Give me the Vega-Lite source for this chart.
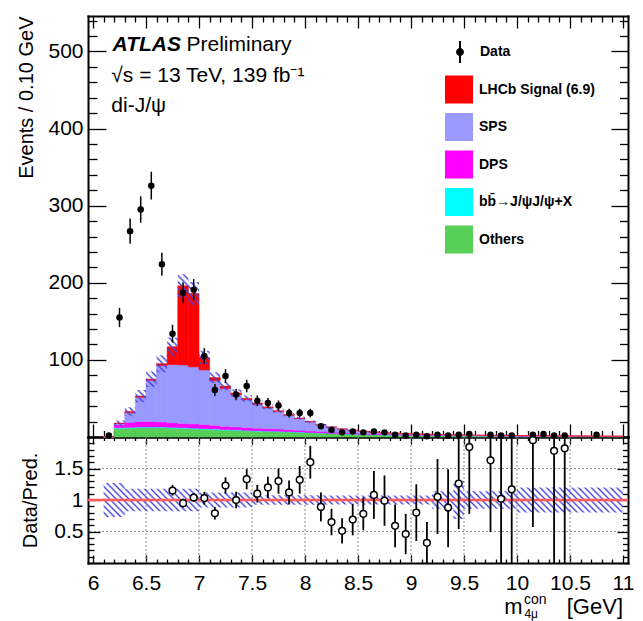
{
"$schema":"https://vega.github.io/schema/vega-lite/v6.json",
"width":540,"height":547,
"autosize":{"type":"none"},
"padding":{"left":88,"top":16,"right":15,"bottom":58},
"background":"white",
"config":{
 "font":"Liberation Sans",
 "view":{"stroke":null},
 "axis":{"labelFont":"Liberation Sans","labelFontSize":21,"labelColor":"black","domainColor":"black","domainWidth":2,"tickColor":"black","tickWidth":1.3,"titleColor":"black","titleFont":"Liberation Sans","titleFontWeight":"normal","titleFontSize":20,"grid":false,"labelOverlap":false,"labelFlush":false,"labelBound":false,"zindex":1,"domainCap":"square"},
 "legend":{"padding":0,"labelFont":"Liberation Sans","labelFontSize":14,"labelFontWeight":"bold","labelColor":"black","labelLimit":250}
},
"datasets":{
 "stack":[
  {"lo":6.1,"hi":6.2,"1_others":0.2,"2_bb":0,"3_dps":0,"4_sps":0.1,"5_sig":0},
  {"lo":6.2,"hi":6.3,"1_others":11,"2_bb":1,"3_dps":4,"4_sps":1.5,"5_sig":0.5},
  {"lo":6.3,"hi":6.4,"1_others":11.5,"2_bb":1,"3_dps":6.5,"4_sps":12.5,"5_sig":1.5},
  {"lo":6.4,"hi":6.5,"1_others":12,"2_bb":1,"3_dps":7,"4_sps":31.5,"5_sig":1.5},
  {"lo":6.5,"hi":6.6,"1_others":12,"2_bb":1,"3_dps":7,"4_sps":53.5,"5_sig":1.5},
  {"lo":6.6,"hi":6.7,"1_others":12,"2_bb":1,"3_dps":6.5,"4_sps":73,"5_sig":2.5},
  {"lo":6.7,"hi":6.8,"1_others":11.5,"2_bb":1,"3_dps":6,"4_sps":75.5,"5_sig":23},
  {"lo":6.8,"hi":6.9,"1_others":11,"2_bb":1,"3_dps":5.5,"4_sps":76,"5_sig":102.5},
  {"lo":6.9,"hi":7.0,"1_others":10.5,"2_bb":1,"3_dps":5.5,"4_sps":74,"5_sig":95},
  {"lo":7.0,"hi":7.1,"1_others":10,"2_bb":1,"3_dps":5,"4_sps":71,"5_sig":16},
  {"lo":7.1,"hi":7.2,"1_others":9.5,"2_bb":1,"3_dps":4.5,"4_sps":58,"5_sig":4},
  {"lo":7.2,"hi":7.3,"1_others":9,"2_bb":0.8,"3_dps":4,"4_sps":49.2,"5_sig":3},
  {"lo":7.3,"hi":7.4,"1_others":8.5,"2_bb":0.8,"3_dps":3.7,"4_sps":42,"5_sig":2},
  {"lo":7.4,"hi":7.5,"1_others":8,"2_bb":0.7,"3_dps":3.5,"4_sps":36.3,"5_sig":1.5},
  {"lo":7.5,"hi":7.6,"1_others":7.5,"2_bb":0.7,"3_dps":3.2,"4_sps":31.3,"5_sig":1.3},
  {"lo":7.6,"hi":7.7,"1_others":7.2,"2_bb":0.6,"3_dps":3,"4_sps":27.2,"5_sig":1},
  {"lo":7.7,"hi":7.8,"1_others":7,"2_bb":0.6,"3_dps":2.8,"4_sps":22.8,"5_sig":0.8},
  {"lo":7.8,"hi":7.9,"1_others":6.5,"2_bb":0.5,"3_dps":2.5,"4_sps":18.8,"5_sig":0.7},
  {"lo":7.9,"hi":8.0,"1_others":6,"2_bb":0.5,"3_dps":2.3,"4_sps":15.2,"5_sig":0.5},
  {"lo":8.0,"hi":8.1,"1_others":5.5,"2_bb":0.4,"3_dps":2,"4_sps":11.7,"5_sig":0.4},
  {"lo":8.1,"hi":8.2,"1_others":5,"2_bb":0.4,"3_dps":1.8,"4_sps":8.5,"5_sig":0.3},
  {"lo":8.2,"hi":8.3,"1_others":4.5,"2_bb":0.3,"3_dps":1.6,"4_sps":6.4,"5_sig":0.2},
  {"lo":8.3,"hi":8.4,"1_others":4,"2_bb":0.3,"3_dps":1.4,"4_sps":4.6,"5_sig":0.2},
  {"lo":8.4,"hi":8.5,"1_others":3.6,"2_bb":0.3,"3_dps":1.3,"4_sps":3.4,"5_sig":0.2},
  {"lo":8.5,"hi":8.6,"1_others":3.2,"2_bb":0.2,"3_dps":1.2,"4_sps":2.6,"5_sig":0.2},
  {"lo":8.6,"hi":8.7,"1_others":2.9,"2_bb":0.2,"3_dps":1.1,"4_sps":1.9,"5_sig":0.1},
  {"lo":8.7,"hi":8.8,"1_others":2.6,"2_bb":0.2,"3_dps":1,"4_sps":1.5,"5_sig":0.1},
  {"lo":8.8,"hi":8.9,"1_others":2.4,"2_bb":0.2,"3_dps":0.9,"4_sps":1.2,"5_sig":0.1},
  {"lo":8.9,"hi":9.0,"1_others":2.2,"2_bb":0.1,"3_dps":0.8,"4_sps":1.1,"5_sig":0.1},
  {"lo":9.0,"hi":9.1,"1_others":2,"2_bb":0.1,"3_dps":0.8,"4_sps":1,"5_sig":0},
  {"lo":9.1,"hi":9.2,"1_others":1.8,"2_bb":0.1,"3_dps":0.7,"4_sps":0.9,"5_sig":0},
  {"lo":9.2,"hi":9.3,"1_others":1.7,"2_bb":0.1,"3_dps":0.6,"4_sps":0.8,"5_sig":0},
  {"lo":9.3,"hi":9.4,"1_others":1.6,"2_bb":0.1,"3_dps":0.5,"4_sps":0.7,"5_sig":0},
  {"lo":9.4,"hi":9.5,"1_others":1.5,"2_bb":0.1,"3_dps":0.5,"4_sps":0.6,"5_sig":0},
  {"lo":9.5,"hi":9.6,"1_others":1.4,"2_bb":0.1,"3_dps":0.4,"4_sps":0.6,"5_sig":0},
  {"lo":9.6,"hi":9.7,"1_others":1.3,"2_bb":0.1,"3_dps":0.4,"4_sps":0.5,"5_sig":0},
  {"lo":9.7,"hi":9.8,"1_others":1.2,"2_bb":0.1,"3_dps":0.3,"4_sps":0.5,"5_sig":0},
  {"lo":9.8,"hi":9.9,"1_others":1.1,"2_bb":0.1,"3_dps":0.3,"4_sps":0.5,"5_sig":0},
  {"lo":9.9,"hi":10.0,"1_others":1.1,"2_bb":0,"3_dps":0.3,"4_sps":0.5,"5_sig":0},
  {"lo":10.0,"hi":10.1,"1_others":1,"2_bb":0,"3_dps":0.3,"4_sps":0.5,"5_sig":0},
  {"lo":10.1,"hi":10.2,"1_others":0.95,"2_bb":0,"3_dps":0.25,"4_sps":0.45,"5_sig":0},
  {"lo":10.2,"hi":10.3,"1_others":0.9,"2_bb":0,"3_dps":0.2,"4_sps":0.45,"5_sig":0},
  {"lo":10.3,"hi":10.4,"1_others":0.85,"2_bb":0,"3_dps":0.2,"4_sps":0.4,"5_sig":0},
  {"lo":10.4,"hi":10.5,"1_others":0.8,"2_bb":0,"3_dps":0.2,"4_sps":0.35,"5_sig":0},
  {"lo":10.5,"hi":10.6,"1_others":0.75,"2_bb":0,"3_dps":0.2,"4_sps":0.35,"5_sig":0},
  {"lo":10.6,"hi":10.7,"1_others":0.7,"2_bb":0,"3_dps":0.15,"4_sps":0.35,"5_sig":0},
  {"lo":10.7,"hi":10.8,"1_others":0.65,"2_bb":0,"3_dps":0.15,"4_sps":0.35,"5_sig":0},
  {"lo":10.8,"hi":10.9,"1_others":0.6,"2_bb":0,"3_dps":0.15,"4_sps":0.35,"5_sig":0},
  {"lo":10.9,"hi":11.0,"1_others":0.6,"2_bb":0,"3_dps":0.15,"4_sps":0.3,"5_sig":0}
 ],
 "ub":[
  {"lo":6.2,"l":14.5,"h":21.5},{"lo":6.3,"l":27.5,"h":38.5},{"lo":6.4,"l":45,"h":61},{"lo":6.5,"l":65,"h":85},
  {"lo":6.6,"l":84,"h":106},{"lo":6.7,"l":105,"h":129},{"lo":6.8,"l":181,"h":211},{"lo":6.9,"l":171,"h":201},
  {"lo":7.0,"l":94,"h":112},{"lo":7.1,"l":70,"h":84},{"lo":7.2,"l":60.5,"h":71.5},{"lo":7.3,"l":52.5,"h":61.5},
  {"lo":7.4,"l":46,"h":54},{"lo":7.5,"l":40.7,"h":47.3},{"lo":7.6,"l":36,"h":42},{"lo":7.7,"l":31.5,"h":36.5},
  {"lo":7.8,"l":27,"h":31},{"lo":7.9,"l":22.8,"h":26.2},{"lo":8.0,"l":18.6,"h":21.4},{"lo":8.1,"l":14.8,"h":17.2},
  {"lo":8.2,"l":12.1,"h":13.9},{"lo":8.3,"l":9.8,"h":11.2},{"lo":8.4,"l":8.2,"h":9.4},{"lo":8.5,"l":8.2,"h":9.4}
 ],
 "rb":[
  {"lo":6.1,"l":0.73,"h":1.27},{"lo":6.2,"l":0.73,"h":1.27},
  {"lo":6.3,"l":0.82,"h":1.18},{"lo":6.4,"l":0.82,"h":1.18},{"lo":6.5,"l":0.82,"h":1.18},{"lo":6.6,"l":0.82,"h":1.18},{"lo":6.7,"l":0.82,"h":1.18},{"lo":6.8,"l":0.82,"h":1.18},{"lo":6.9,"l":0.82,"h":1.18},
  {"lo":7.0,"l":0.88,"h":1.12},{"lo":7.1,"l":0.88,"h":1.12},{"lo":7.2,"l":0.88,"h":1.12},{"lo":7.3,"l":0.88,"h":1.12},{"lo":7.4,"l":0.88,"h":1.12},
  {"lo":7.5,"l":0.925,"h":1.075},{"lo":7.6,"l":0.925,"h":1.075},{"lo":7.7,"l":0.925,"h":1.075},{"lo":7.8,"l":0.925,"h":1.075},{"lo":7.9,"l":0.925,"h":1.075},{"lo":8.0,"l":0.925,"h":1.075},{"lo":8.1,"l":0.925,"h":1.075},
  {"lo":8.2,"l":0.93,"h":1.07},{"lo":8.3,"l":0.93,"h":1.07},{"lo":8.4,"l":0.93,"h":1.07},{"lo":8.5,"l":0.93,"h":1.07},{"lo":8.6,"l":0.93,"h":1.07},{"lo":8.7,"l":0.93,"h":1.07},{"lo":8.8,"l":0.93,"h":1.07},{"lo":8.9,"l":0.93,"h":1.07},{"lo":9.0,"l":0.93,"h":1.07},{"lo":9.1,"l":0.93,"h":1.07},
  {"lo":9.2,"l":0.86,"h":1.14},{"lo":9.3,"l":0.86,"h":1.14},{"lo":9.4,"l":0.7,"h":1.3},
  {"lo":9.5,"l":0.86,"h":1.14},{"lo":9.6,"l":0.86,"h":1.14},{"lo":9.7,"l":0.86,"h":1.14},{"lo":9.8,"l":0.86,"h":1.14},{"lo":9.9,"l":0.86,"h":1.14},
  {"lo":10.0,"l":0.8,"h":1.2},{"lo":10.1,"l":0.8,"h":1.2},{"lo":10.2,"l":0.8,"h":1.2},{"lo":10.3,"l":0.8,"h":1.2},{"lo":10.4,"l":0.8,"h":1.2},{"lo":10.5,"l":0.8,"h":1.2},{"lo":10.6,"l":0.8,"h":1.2},{"lo":10.7,"l":0.8,"h":1.2},{"lo":10.8,"l":0.8,"h":1.2},{"lo":10.9,"l":0.8,"h":1.2},{"lo":11.0,"l":0.8,"h":1.2}
 ],
 "pts":[
  {"m":6.15,"n":2,"l":0.6,"h":3.4},{"m":6.25,"n":155,"l":142.5,"h":167.5},{"m":6.35,"n":267,"l":250.7,"h":283.3},{"m":6.45,"n":295,"l":277.8,"h":312.2},
  {"m":6.55,"n":326,"l":308,"h":344},{"m":6.65,"n":224,"l":209,"h":239},{"m":6.75,"n":134,"l":122.4,"h":145.6},{"m":6.85,"n":187,"l":173.3,"h":200.7},
  {"m":6.95,"n":191,"l":177.2,"h":204.8},{"m":7.05,"n":105,"l":94.8,"h":115.2},{"m":7.15,"n":61,"l":53.2,"h":68.8},{"m":7.25,"n":79,"l":70.1,"h":87.9},
  {"m":7.35,"n":55,"l":47.6,"h":62.4},{"m":7.45,"n":66,"l":57.9,"h":74.1},{"m":7.55,"n":47,"l":40.1,"h":53.9},{"m":7.65,"n":44,"l":37.4,"h":50.6},
  {"m":7.75,"n":41,"l":34.6,"h":47.4},{"m":7.85,"n":31,"l":25.4,"h":36.6},{"m":7.95,"n":31,"l":25.4,"h":36.6},{"m":8.05,"n":31,"l":25.4,"h":36.6},
  {"m":8.15,"n":14,"l":10.3,"h":17.7},{"m":8.25,"n":9,"l":6,"h":12},{"m":8.35,"n":6,"l":3.6,"h":8.4},{"m":8.45,"n":7,"l":4.4,"h":9.6},
  {"m":8.55,"n":6,"l":3.6,"h":8.4},{"m":8.65,"n":7,"l":4.4,"h":9.6},{"m":8.75,"n":6,"l":3.6,"h":8.4},{"m":8.85,"n":3,"l":1.3,"h":4.7},
  {"m":8.95,"n":2,"l":0.6,"h":3.4},{"m":9.05,"n":3,"l":1.3,"h":4.7},{"m":9.15,"n":1,"l":0,"h":2},{"m":9.25,"n":3,"l":1.3,"h":4.7},
  {"m":9.35,"n":2,"l":0.6,"h":3.4},{"m":9.45,"n":3,"l":1.3,"h":4.7},{"m":9.55,"n":4,"l":2,"h":6},{"m":9.75,"n":3,"l":1.3,"h":4.7},
  {"m":9.85,"n":2,"l":0.6,"h":3.4},{"m":9.95,"n":2,"l":0.6,"h":3.4},{"m":10.15,"n":3,"l":1.3,"h":4.7},{"m":10.25,"n":4,"l":2,"h":6},
  {"m":10.35,"n":2,"l":0.6,"h":3.4},{"m":10.45,"n":2,"l":0.6,"h":3.4},{"m":10.75,"n":3,"l":1.3,"h":4.7}
 ],
 "rat":[
  {"m":6.75,"r":1.15,"l":1.07,"h":1.24},{"m":6.85,"r":0.95,"l":0.88,"h":1.02},{"m":6.95,"r":1.04,"l":0.97,"h":1.11},{"m":7.05,"r":1.03,"l":0.93,"h":1.13},
  {"m":7.15,"r":0.79,"l":0.69,"h":0.89},{"m":7.25,"r":1.23,"l":1.1,"h":1.36},{"m":7.35,"r":1.0,"l":0.87,"h":1.13},{"m":7.45,"r":1.33,"l":1.17,"h":1.49},
  {"m":7.55,"r":1.1,"l":0.96,"h":1.24},{"m":7.65,"r":1.2,"l":1.03,"h":1.37},{"m":7.75,"r":1.3,"l":1.1,"h":1.5},{"m":7.85,"r":1.12,"l":0.93,"h":1.31},
  {"m":7.95,"r":1.32,"l":1.1,"h":1.54},{"m":8.05,"r":1.6,"l":1.34,"h":1.86},{"m":8.15,"r":0.89,"l":0.66,"h":1.12},{"m":8.25,"r":0.65,"l":0.44,"h":0.86},
  {"m":8.35,"r":0.51,"l":0.31,"h":0.71},{"m":8.45,"r":0.69,"l":0.44,"h":0.94},{"m":8.55,"r":0.78,"l":0.52,"h":1.04},{"m":8.65,"r":1.08,"l":0.7,"h":1.46},
  {"m":8.75,"r":0.99,"l":0.59,"h":1.39},{"m":8.85,"r":0.59,"l":0.25,"h":0.93},{"m":8.95,"r":0.46,"l":0.14,"h":0.78},{"m":9.05,"r":0.8,"l":0.35,"h":1.25},
  {"m":9.15,"r":0.32,"l":0,"h":0.65},{"m":9.25,"r":1.05,"l":0.46,"h":1.65},{"m":9.35,"r":0.88,"l":0.25,"h":1.49},{"m":9.45,"r":1.26,"l":0.54,"h":2.1},
  {"m":9.55,"r":1.84,"l":0.78,"h":2.6},{"m":9.75,"r":1.63,"l":0.49,"h":2.5},{"m":9.85,"r":1.02,"l":0,"h":2.5},{"m":9.95,"r":1.17,"l":0,"h":2.5},
  {"m":10.15,"r":1.95,"l":0.57,"h":2.8},{"m":10.35,"r":1.78,"l":0,"h":2.6},{"m":10.45,"r":1.82,"l":0,"h":2.6}
 ],
 "gx":[{"g":6.5},{"g":7},{"g":7.5},{"g":8},{"g":8.5},{"g":9},{"g":9.5},{"g":10},{"g":10.5}],
 "gy":[{"g":0.5},{"g":1},{"g":1.5}]
},
"resolve":{"scale":{"y":"independent"},"axis":{"x":"independent","y":"independent"}},
"layer":[
 {
  "resolve":{"axis":{"x":"independent","y":"independent"}},
  "layer":[
   {
    "data":{"name":"stack"},
    "transform":[{"fold":["1_others","2_bb","3_dps","4_sps","5_sig"],"as":["comp","v"]}],
    "mark":{"type":"bar","orient":"vertical","strokeWidth":0.6},
    "encoding":{
     "x":{"field":"lo","type":"quantitative","scale":{"domain":[6,11],"nice":false,"zero":false},
      "axis":{"orient":"bottom","offset":-126,"values":[6,6.1,6.2,6.3,6.4,6.5,6.6,6.7,6.8,6.9,7,7.1,7.2,7.3,7.4,7.5,7.6,7.7,7.8,7.9,8,8.1,8.2,8.3,8.4,8.5,8.6,8.7,8.8,8.9,9,9.1,9.2,9.3,9.4,9.5,9.6,9.7,9.8,9.9,10,10.1,10.2,10.3,10.4,10.5,10.6,10.7,10.8,10.9,11],"labels":false,"title":null,
       "tickSize":{"condition":{"test":"abs(datum.value*2-round(datum.value*2))<0.01","value":-13},"value":-6.5}}},
     "x2":{"field":"hi"},
     "y":{"field":"v","type":"quantitative","stack":"zero","scale":{"domain":[0,546],"range":[421,0],"nice":false,"zero":false},
      "axis":{"orient":"left","values":[0,20,40,60,80,100,120,140,160,180,200,220,240,260,280,300,320,340,360,380,400,420,440,460,480,500,520,540],"format":"d",
       "labelExpr":"datum.value % 100 === 0 && datum.value > 0 ? datum.label : ''","labelPadding":23,
       "title":"Events / 0.10 GeV","titleAnchor":"end","titleX":-56,"titleBaseline":"alphabetic",
       "tickSize":{"condition":{"test":"datum.value % 100 === 0","value":-18},"value":-9}}},
     "color":{"field":"comp","type":"nominal",
      "scale":{"domain":["5_sig","4_sps","3_dps","2_bb","1_others"],"range":["#ff0000","#9999ff","#ff00ff","#00ffff","#57cf57"]},
      "legend":{"orient":"none","legendX":357,"legendY":59.5,"title":null,"direction":"vertical","symbolType":"square","symbolSize":784,"symbolStrokeWidth":0,"rowPadding":9.5,"labelOffset":6,
       "labelExpr":"datum.label=='5_sig'?'LHCb Signal (6.9)':datum.label=='4_sps'?'SPS':datum.label=='3_dps'?'DPS':datum.label=='2_bb'?'bb\u0304\u2192J/\u03c8J/\u03c8+X':'Others'"}},
     "stroke":{"field":"comp","type":"nominal",
      "scale":{"domain":["5_sig","4_sps","3_dps","2_bb","1_others"],"range":["#ff0000","#9999ff","#ff00ff","#00ffff","#57cf57"]},"legend":null},
     "order":{"field":"comp","type":"nominal","sort":"ascending"}
    }
   },
   {
    "data":{"name":"ub"},
    "mark":{"type":"area","interpolate":"step-after",
     "fill":{"gradient":"linear","x1":0,"y1":1,"x2":1.167,"y2":0.2652,"stops":[
{"offset":0,"color":"#44d"},{"offset":0.005,"color":"#44d0"},{"offset":0.011,"color":"#44d0"},
{"offset":0.016,"color":"#44d"},{"offset":0.021,"color":"#44d0"},{"offset":0.027,"color":"#44d0"},
{"offset":0.032,"color":"#44d"},{"offset":0.037,"color":"#44d0"},{"offset":0.043,"color":"#44d0"},
{"offset":0.048,"color":"#44d"},{"offset":0.053,"color":"#44d0"},{"offset":0.059,"color":"#44d0"},
{"offset":0.064,"color":"#44d"},{"offset":0.069,"color":"#44d0"},{"offset":0.075,"color":"#44d0"},
{"offset":0.08,"color":"#44d"},{"offset":0.085,"color":"#44d0"},{"offset":0.091,"color":"#44d0"},
{"offset":0.096,"color":"#44d"},{"offset":0.101,"color":"#44d0"},{"offset":0.107,"color":"#44d0"},
{"offset":0.112,"color":"#44d"},{"offset":0.117,"color":"#44d0"},{"offset":0.123,"color":"#44d0"},
{"offset":0.128,"color":"#44d"},{"offset":0.133,"color":"#44d0"},{"offset":0.139,"color":"#44d0"},
{"offset":0.144,"color":"#44d"},{"offset":0.149,"color":"#44d0"},{"offset":0.155,"color":"#44d0"},
{"offset":0.16,"color":"#44d"},{"offset":0.165,"color":"#44d0"},{"offset":0.171,"color":"#44d0"},
{"offset":0.176,"color":"#44d"},{"offset":0.181,"color":"#44d0"},{"offset":0.187,"color":"#44d0"},
{"offset":0.192,"color":"#44d"},{"offset":0.197,"color":"#44d0"},{"offset":0.203,"color":"#44d0"},
{"offset":0.208,"color":"#44d"},{"offset":0.213,"color":"#44d0"},{"offset":0.219,"color":"#44d0"},
{"offset":0.224,"color":"#44d"},{"offset":0.229,"color":"#44d0"},{"offset":0.235,"color":"#44d0"},
{"offset":0.24,"color":"#44d"},{"offset":0.245,"color":"#44d0"},{"offset":0.251,"color":"#44d0"},
{"offset":0.256,"color":"#44d"},{"offset":0.261,"color":"#44d0"},{"offset":0.267,"color":"#44d0"},
{"offset":0.272,"color":"#44d"},{"offset":0.277,"color":"#44d0"},{"offset":0.283,"color":"#44d0"},
{"offset":0.288,"color":"#44d"},{"offset":0.293,"color":"#44d0"},{"offset":0.299,"color":"#44d0"},
{"offset":0.304,"color":"#44d"},{"offset":0.309,"color":"#44d0"},{"offset":0.315,"color":"#44d0"},
{"offset":0.32,"color":"#44d"},{"offset":0.325,"color":"#44d0"},{"offset":0.331,"color":"#44d0"},
{"offset":0.336,"color":"#44d"},{"offset":0.341,"color":"#44d0"},{"offset":0.347,"color":"#44d0"},
{"offset":0.352,"color":"#44d"},{"offset":0.357,"color":"#44d0"},{"offset":0.363,"color":"#44d0"},
{"offset":0.368,"color":"#44d"},{"offset":0.373,"color":"#44d0"},{"offset":0.379,"color":"#44d0"},
{"offset":0.384,"color":"#44d"},{"offset":0.389,"color":"#44d0"},{"offset":0.395,"color":"#44d0"},
{"offset":0.4,"color":"#44d"},{"offset":0.405,"color":"#44d0"},{"offset":0.411,"color":"#44d0"},
{"offset":0.416,"color":"#44d"},{"offset":0.421,"color":"#44d0"},{"offset":0.427,"color":"#44d0"},
{"offset":0.432,"color":"#44d"},{"offset":0.437,"color":"#44d0"},{"offset":0.443,"color":"#44d0"},
{"offset":0.448,"color":"#44d"},{"offset":0.453,"color":"#44d0"},{"offset":0.459,"color":"#44d0"},
{"offset":0.464,"color":"#44d"},{"offset":0.469,"color":"#44d0"},{"offset":0.475,"color":"#44d0"},
{"offset":0.48,"color":"#44d"},{"offset":0.485,"color":"#44d0"},{"offset":0.491,"color":"#44d0"},
{"offset":0.496,"color":"#44d"},{"offset":0.501,"color":"#44d0"},{"offset":0.507,"color":"#44d0"},
{"offset":0.512,"color":"#44d"},{"offset":0.517,"color":"#44d0"},{"offset":0.523,"color":"#44d0"},
{"offset":0.528,"color":"#44d"},{"offset":0.533,"color":"#44d0"},{"offset":0.539,"color":"#44d0"},
{"offset":0.544,"color":"#44d"},{"offset":0.549,"color":"#44d0"},{"offset":0.555,"color":"#44d0"},
{"offset":0.56,"color":"#44d"},{"offset":0.565,"color":"#44d0"},{"offset":0.571,"color":"#44d0"},
{"offset":0.576,"color":"#44d"},{"offset":0.581,"color":"#44d0"},{"offset":0.587,"color":"#44d0"},
{"offset":0.592,"color":"#44d"},{"offset":0.597,"color":"#44d0"},{"offset":0.603,"color":"#44d0"},
{"offset":0.608,"color":"#44d"},{"offset":0.613,"color":"#44d0"},{"offset":0.619,"color":"#44d0"},
{"offset":0.624,"color":"#44d"},{"offset":0.629,"color":"#44d0"},{"offset":0.635,"color":"#44d0"},
{"offset":0.64,"color":"#44d"},{"offset":0.645,"color":"#44d0"},{"offset":0.651,"color":"#44d0"},
{"offset":0.656,"color":"#44d"},{"offset":0.661,"color":"#44d0"},{"offset":0.667,"color":"#44d0"},
{"offset":0.672,"color":"#44d"},{"offset":0.677,"color":"#44d0"},{"offset":0.683,"color":"#44d0"},
{"offset":0.688,"color":"#44d"},{"offset":0.693,"color":"#44d0"},{"offset":0.699,"color":"#44d0"},
{"offset":0.704,"color":"#44d"},{"offset":0.709,"color":"#44d0"},{"offset":0.715,"color":"#44d0"},
{"offset":0.72,"color":"#44d"},{"offset":0.725,"color":"#44d0"},{"offset":0.731,"color":"#44d0"},
{"offset":0.736,"color":"#44d"},{"offset":0.741,"color":"#44d0"},{"offset":0.747,"color":"#44d0"},
{"offset":0.752,"color":"#44d"},{"offset":0.757,"color":"#44d0"},{"offset":0.763,"color":"#44d0"},
{"offset":0.768,"color":"#44d"},{"offset":0.773,"color":"#44d0"},{"offset":0.779,"color":"#44d0"},
{"offset":0.784,"color":"#44d"},{"offset":0.789,"color":"#44d0"},{"offset":0.795,"color":"#44d0"},
{"offset":0.8,"color":"#44d"},{"offset":0.805,"color":"#44d0"},{"offset":0.811,"color":"#44d0"},
{"offset":0.816,"color":"#44d"},{"offset":0.821,"color":"#44d0"},{"offset":0.827,"color":"#44d0"},
{"offset":0.832,"color":"#44d"},{"offset":0.837,"color":"#44d0"},{"offset":0.843,"color":"#44d0"},
{"offset":0.848,"color":"#44d"},{"offset":0.853,"color":"#44d0"},{"offset":0.859,"color":"#44d0"},
{"offset":0.864,"color":"#44d"},{"offset":0.869,"color":"#44d0"},{"offset":0.875,"color":"#44d0"},
{"offset":0.88,"color":"#44d"},{"offset":0.885,"color":"#44d0"},{"offset":0.891,"color":"#44d0"},
{"offset":0.896,"color":"#44d"},{"offset":0.901,"color":"#44d0"},{"offset":0.907,"color":"#44d0"},
{"offset":0.912,"color":"#44d"},{"offset":0.917,"color":"#44d0"},{"offset":0.923,"color":"#44d0"},
{"offset":0.928,"color":"#44d"},{"offset":0.933,"color":"#44d0"},{"offset":0.939,"color":"#44d0"},
{"offset":0.944,"color":"#44d"},{"offset":0.949,"color":"#44d0"},{"offset":0.955,"color":"#44d0"},
{"offset":0.96,"color":"#44d"},{"offset":0.965,"color":"#44d0"},{"offset":0.971,"color":"#44d0"},
{"offset":0.976,"color":"#44d"},{"offset":0.981,"color":"#44d0"},{"offset":0.987,"color":"#44d0"},
{"offset":0.992,"color":"#44d"},{"offset":0.997,"color":"#44d0"}
     ]}},
    "encoding":{
     "x":{"field":"lo","type":"quantitative","scale":{"domain":[6,11],"nice":false,"zero":false},
      "axis":{"orient":"top","values":[6,6.1,6.2,6.3,6.4,6.5,6.6,6.7,6.8,6.9,7,7.1,7.2,7.3,7.4,7.5,7.6,7.7,7.8,7.9,8,8.1,8.2,8.3,8.4,8.5,8.6,8.7,8.8,8.9,9,9.1,9.2,9.3,9.4,9.5,9.6,9.7,9.8,9.9,10,10.1,10.2,10.3,10.4,10.5,10.6,10.7,10.8,10.9,11],"labels":false,"title":null,
       "tickSize":{"condition":{"test":"abs(datum.value*2-round(datum.value*2))<0.01","value":-12},"value":-6}}},
     "y":{"field":"h","type":"quantitative","scale":{"domain":[0,546],"range":[421,0],"nice":false,"zero":false},
      "axis":{"orient":"right","values":[0,20,40,60,80,100,120,140,160,180,200,220,240,260,280,300,320,340,360,380,400,420,440,460,480,500,520,540],"labels":false,"title":null,
       "tickSize":{"condition":{"test":"datum.value % 100 === 0","value":-17},"value":-8.5}}},
     "y2":{"field":"l"}
    }
   },
   {
    "data":{"name":"pts"},
    "mark":{"type":"rule","color":"black","strokeWidth":1.5},
    "encoding":{
     "x":{"field":"m","type":"quantitative","scale":{"domain":[6,11],"nice":false,"zero":false},"axis":null},
     "y":{"field":"l","type":"quantitative","scale":{"domain":[0,546],"range":[421,0],"nice":false,"zero":false},"axis":null},
     "y2":{"field":"h"}
    }
   },
   {
    "data":{"name":"pts"},
    "mark":{"type":"point","filled":true,"size":42,"opacity":1,"strokeWidth":0},
    "encoding":{
     "x":{"field":"m","type":"quantitative","scale":{"domain":[6,11],"nice":false,"zero":false},"axis":null},
     "y":{"field":"n","type":"quantitative","scale":{"domain":[0,546],"range":[421,0],"nice":false,"zero":false},"axis":null},
     "fill":{"datum":"Data","type":"nominal","scale":{"range":["black"]},
      "legend":{"orient":"none","legendX":361,"legendY":25,"title":null,"direction":"vertical",
       "symbolType":"M-0.09,-1H0.09V1H-0.09Z M0.36,0A0.36,0.36,0,1,1,-0.36,0A0.36,0.36,0,1,1,0.36,0Z",
       "symbolSize":484,"symbolStrokeWidth":0,"symbolOpacity":1,"labelOffset":9}}
    }
   },
   {
    "data":{"values":[{}]},
    "mark":{"type":"text","text":"ATLAS","fontSize":21,"fontWeight":"bold","fontStyle":"italic","align":"left","baseline":"alphabetic","color":"black"},
    "encoding":{
     "x":{"datum":6.185,"type":"quantitative","scale":{"domain":[6,11],"nice":false,"zero":false},"axis":null},
     "y":{"datum":500,"type":"quantitative","scale":{"domain":[0,546],"range":[421,0],"nice":false,"zero":false},"axis":null}
    }
   },
   {
    "data":{"values":[{}]},
    "mark":{"type":"text","text":"Preliminary","fontSize":21,"align":"left","baseline":"alphabetic","color":"black"},
    "encoding":{
     "x":{"datum":6.882,"type":"quantitative","scale":{"domain":[6,11],"nice":false,"zero":false},"axis":null},
     "y":{"datum":500,"type":"quantitative","scale":{"domain":[0,546],"range":[421,0],"nice":false,"zero":false},"axis":null}
    }
   },
   {
    "data":{"values":[{}]},
    "mark":{"type":"text","text":"\u221as = 13 TeV, 139 fb\u207b\u00b9","fontSize":21,"align":"left","baseline":"alphabetic","color":"black"},
    "encoding":{
     "x":{"datum":6.173,"type":"quantitative","scale":{"domain":[6,11],"nice":false,"zero":false},"axis":null},
     "y":{"datum":461,"type":"quantitative","scale":{"domain":[0,546],"range":[421,0],"nice":false,"zero":false},"axis":null}
    }
   },
   {
    "data":{"values":[{}]},
    "mark":{"type":"text","text":"di-J/\u03c8","fontSize":21,"align":"left","baseline":"alphabetic","color":"black"},
    "encoding":{
     "x":{"datum":6.173,"type":"quantitative","scale":{"domain":[6,11],"nice":false,"zero":false},"axis":null},
     "y":{"datum":422,"type":"quantitative","scale":{"domain":[0,546],"range":[421,0],"nice":false,"zero":false},"axis":null}
    }
   }
  ]
 },
 {
  "resolve":{"axis":{"x":"independent","y":"independent"}},
  "layer":[
   {
    "data":{"name":"gx"},
    "mark":{"type":"rule","color":"#8c8c8c","strokeDash":[2,2],"strokeWidth":1},
    "encoding":{
     "x":{"field":"g","type":"quantitative","scale":{"domain":[6,11],"nice":false,"zero":false},"axis":null},
     "y":{"datum":0,"type":"quantitative","scale":{"domain":[0,2],"range":[547,421],"nice":false,"zero":false,"clamp":true},"axis":null},
     "y2":{"datum":2}
    }
   },
   {
    "data":{"name":"gy"},
    "mark":{"type":"rule","color":"#8c8c8c","strokeDash":[2,2],"strokeWidth":1},
    "encoding":{
     "y":{"field":"g","type":"quantitative","scale":{"domain":[0,2],"range":[547,421],"nice":false,"zero":false,"clamp":true},"axis":null}
    }
   },
   {
    "data":{"name":"rb"},
    "mark":{"type":"area","interpolate":"step-after",
     "fill":{"gradient":"linear","x1":0,"y1":1,"x2":1.066,"y2":0.9239,"stops":[
{"offset":0,"color":"#44d"},{"offset":0.0035,"color":"#44d0"},{"offset":0.008,"color":"#44d0"},
{"offset":0.0115,"color":"#44d"},{"offset":0.015,"color":"#44d0"},{"offset":0.0195,"color":"#44d0"},
{"offset":0.023,"color":"#44d"},{"offset":0.0265,"color":"#44d0"},{"offset":0.031,"color":"#44d0"},
{"offset":0.0345,"color":"#44d"},{"offset":0.038,"color":"#44d0"},{"offset":0.0425,"color":"#44d0"},
{"offset":0.046,"color":"#44d"},{"offset":0.0495,"color":"#44d0"},{"offset":0.054,"color":"#44d0"},
{"offset":0.0575,"color":"#44d"},{"offset":0.061,"color":"#44d0"},{"offset":0.0655,"color":"#44d0"},
{"offset":0.069,"color":"#44d"},{"offset":0.0725,"color":"#44d0"},{"offset":0.077,"color":"#44d0"},
{"offset":0.0805,"color":"#44d"},{"offset":0.084,"color":"#44d0"},{"offset":0.0885,"color":"#44d0"},
{"offset":0.092,"color":"#44d"},{"offset":0.0955,"color":"#44d0"},{"offset":0.1,"color":"#44d0"},
{"offset":0.1035,"color":"#44d"},{"offset":0.107,"color":"#44d0"},{"offset":0.1115,"color":"#44d0"},
{"offset":0.115,"color":"#44d"},{"offset":0.1185,"color":"#44d0"},{"offset":0.123,"color":"#44d0"},
{"offset":0.1265,"color":"#44d"},{"offset":0.13,"color":"#44d0"},{"offset":0.1345,"color":"#44d0"},
{"offset":0.138,"color":"#44d"},{"offset":0.1415,"color":"#44d0"},{"offset":0.146,"color":"#44d0"},
{"offset":0.1495,"color":"#44d"},{"offset":0.153,"color":"#44d0"},{"offset":0.1575,"color":"#44d0"},
{"offset":0.161,"color":"#44d"},{"offset":0.1645,"color":"#44d0"},{"offset":0.169,"color":"#44d0"},
{"offset":0.1725,"color":"#44d"},{"offset":0.176,"color":"#44d0"},{"offset":0.1805,"color":"#44d0"},
{"offset":0.184,"color":"#44d"},{"offset":0.1875,"color":"#44d0"},{"offset":0.192,"color":"#44d0"},
{"offset":0.1955,"color":"#44d"},{"offset":0.199,"color":"#44d0"},{"offset":0.2035,"color":"#44d0"},
{"offset":0.207,"color":"#44d"},{"offset":0.2105,"color":"#44d0"},{"offset":0.215,"color":"#44d0"},
{"offset":0.2185,"color":"#44d"},{"offset":0.222,"color":"#44d0"},{"offset":0.2265,"color":"#44d0"},
{"offset":0.23,"color":"#44d"},{"offset":0.2335,"color":"#44d0"},{"offset":0.238,"color":"#44d0"},
{"offset":0.2415,"color":"#44d"},{"offset":0.245,"color":"#44d0"},{"offset":0.2495,"color":"#44d0"},
{"offset":0.253,"color":"#44d"},{"offset":0.2565,"color":"#44d0"},{"offset":0.261,"color":"#44d0"},
{"offset":0.2645,"color":"#44d"},{"offset":0.268,"color":"#44d0"},{"offset":0.2725,"color":"#44d0"},
{"offset":0.276,"color":"#44d"},{"offset":0.2795,"color":"#44d0"},{"offset":0.284,"color":"#44d0"},
{"offset":0.2875,"color":"#44d"},{"offset":0.291,"color":"#44d0"},{"offset":0.2955,"color":"#44d0"},
{"offset":0.299,"color":"#44d"},{"offset":0.3025,"color":"#44d0"},{"offset":0.307,"color":"#44d0"},
{"offset":0.3105,"color":"#44d"},{"offset":0.314,"color":"#44d0"},{"offset":0.3185,"color":"#44d0"},
{"offset":0.322,"color":"#44d"},{"offset":0.3255,"color":"#44d0"},{"offset":0.33,"color":"#44d0"},
{"offset":0.3335,"color":"#44d"},{"offset":0.337,"color":"#44d0"},{"offset":0.3415,"color":"#44d0"},
{"offset":0.345,"color":"#44d"},{"offset":0.3485,"color":"#44d0"},{"offset":0.353,"color":"#44d0"},
{"offset":0.3565,"color":"#44d"},{"offset":0.36,"color":"#44d0"},{"offset":0.3645,"color":"#44d0"},
{"offset":0.368,"color":"#44d"},{"offset":0.3715,"color":"#44d0"},{"offset":0.376,"color":"#44d0"},
{"offset":0.3795,"color":"#44d"},{"offset":0.383,"color":"#44d0"},{"offset":0.3875,"color":"#44d0"},
{"offset":0.391,"color":"#44d"},{"offset":0.3945,"color":"#44d0"},{"offset":0.399,"color":"#44d0"},
{"offset":0.4025,"color":"#44d"},{"offset":0.406,"color":"#44d0"},{"offset":0.4105,"color":"#44d0"},
{"offset":0.414,"color":"#44d"},{"offset":0.4175,"color":"#44d0"},{"offset":0.422,"color":"#44d0"},
{"offset":0.4255,"color":"#44d"},{"offset":0.429,"color":"#44d0"},{"offset":0.4335,"color":"#44d0"},
{"offset":0.437,"color":"#44d"},{"offset":0.4405,"color":"#44d0"},{"offset":0.445,"color":"#44d0"},
{"offset":0.4485,"color":"#44d"},{"offset":0.452,"color":"#44d0"},{"offset":0.4565,"color":"#44d0"},
{"offset":0.46,"color":"#44d"},{"offset":0.4635,"color":"#44d0"},{"offset":0.468,"color":"#44d0"},
{"offset":0.4715,"color":"#44d"},{"offset":0.475,"color":"#44d0"},{"offset":0.4795,"color":"#44d0"},
{"offset":0.483,"color":"#44d"},{"offset":0.4865,"color":"#44d0"},{"offset":0.491,"color":"#44d0"},
{"offset":0.4945,"color":"#44d"},{"offset":0.498,"color":"#44d0"},{"offset":0.5025,"color":"#44d0"},
{"offset":0.506,"color":"#44d"},{"offset":0.5095,"color":"#44d0"},{"offset":0.514,"color":"#44d0"},
{"offset":0.5175,"color":"#44d"},{"offset":0.521,"color":"#44d0"},{"offset":0.5255,"color":"#44d0"},
{"offset":0.529,"color":"#44d"},{"offset":0.5325,"color":"#44d0"},{"offset":0.537,"color":"#44d0"},
{"offset":0.5405,"color":"#44d"},{"offset":0.544,"color":"#44d0"},{"offset":0.5485,"color":"#44d0"},
{"offset":0.552,"color":"#44d"},{"offset":0.5555,"color":"#44d0"},{"offset":0.56,"color":"#44d0"},
{"offset":0.5635,"color":"#44d"},{"offset":0.567,"color":"#44d0"},{"offset":0.5715,"color":"#44d0"},
{"offset":0.575,"color":"#44d"},{"offset":0.5785,"color":"#44d0"},{"offset":0.583,"color":"#44d0"},
{"offset":0.5865,"color":"#44d"},{"offset":0.59,"color":"#44d0"},{"offset":0.5945,"color":"#44d0"},
{"offset":0.598,"color":"#44d"},{"offset":0.6015,"color":"#44d0"},{"offset":0.606,"color":"#44d0"},
{"offset":0.6095,"color":"#44d"},{"offset":0.613,"color":"#44d0"},{"offset":0.6175,"color":"#44d0"},
{"offset":0.621,"color":"#44d"},{"offset":0.6245,"color":"#44d0"},{"offset":0.629,"color":"#44d0"},
{"offset":0.6325,"color":"#44d"},{"offset":0.636,"color":"#44d0"},{"offset":0.6405,"color":"#44d0"},
{"offset":0.644,"color":"#44d"},{"offset":0.6475,"color":"#44d0"},{"offset":0.652,"color":"#44d0"},
{"offset":0.6555,"color":"#44d"},{"offset":0.659,"color":"#44d0"},{"offset":0.6635,"color":"#44d0"},
{"offset":0.667,"color":"#44d"},{"offset":0.6705,"color":"#44d0"},{"offset":0.675,"color":"#44d0"},
{"offset":0.6785,"color":"#44d"},{"offset":0.682,"color":"#44d0"},{"offset":0.6865,"color":"#44d0"},
{"offset":0.69,"color":"#44d"},{"offset":0.6935,"color":"#44d0"},{"offset":0.698,"color":"#44d0"},
{"offset":0.7015,"color":"#44d"},{"offset":0.705,"color":"#44d0"},{"offset":0.7095,"color":"#44d0"},
{"offset":0.713,"color":"#44d"},{"offset":0.7165,"color":"#44d0"},{"offset":0.721,"color":"#44d0"},
{"offset":0.7245,"color":"#44d"},{"offset":0.728,"color":"#44d0"},{"offset":0.7325,"color":"#44d0"},
{"offset":0.736,"color":"#44d"},{"offset":0.7395,"color":"#44d0"},{"offset":0.744,"color":"#44d0"},
{"offset":0.7475,"color":"#44d"},{"offset":0.751,"color":"#44d0"},{"offset":0.7555,"color":"#44d0"},
{"offset":0.759,"color":"#44d"},{"offset":0.7625,"color":"#44d0"},{"offset":0.767,"color":"#44d0"},
{"offset":0.7705,"color":"#44d"},{"offset":0.774,"color":"#44d0"},{"offset":0.7785,"color":"#44d0"},
{"offset":0.782,"color":"#44d"},{"offset":0.7855,"color":"#44d0"},{"offset":0.79,"color":"#44d0"},
{"offset":0.7935,"color":"#44d"},{"offset":0.797,"color":"#44d0"},{"offset":0.8015,"color":"#44d0"},
{"offset":0.805,"color":"#44d"},{"offset":0.8085,"color":"#44d0"},{"offset":0.813,"color":"#44d0"},
{"offset":0.8165,"color":"#44d"},{"offset":0.82,"color":"#44d0"},{"offset":0.8245,"color":"#44d0"},
{"offset":0.828,"color":"#44d"},{"offset":0.8315,"color":"#44d0"},{"offset":0.836,"color":"#44d0"},
{"offset":0.8395,"color":"#44d"},{"offset":0.843,"color":"#44d0"},{"offset":0.8475,"color":"#44d0"},
{"offset":0.851,"color":"#44d"},{"offset":0.8545,"color":"#44d0"},{"offset":0.859,"color":"#44d0"},
{"offset":0.8625,"color":"#44d"},{"offset":0.866,"color":"#44d0"},{"offset":0.8705,"color":"#44d0"},
{"offset":0.874,"color":"#44d"},{"offset":0.8775,"color":"#44d0"},{"offset":0.882,"color":"#44d0"},
{"offset":0.8855,"color":"#44d"},{"offset":0.889,"color":"#44d0"},{"offset":0.8935,"color":"#44d0"},
{"offset":0.897,"color":"#44d"},{"offset":0.9005,"color":"#44d0"},{"offset":0.905,"color":"#44d0"},
{"offset":0.9085,"color":"#44d"},{"offset":0.912,"color":"#44d0"},{"offset":0.9165,"color":"#44d0"},
{"offset":0.92,"color":"#44d"},{"offset":0.9235,"color":"#44d0"},{"offset":0.928,"color":"#44d0"},
{"offset":0.9315,"color":"#44d"},{"offset":0.935,"color":"#44d0"},{"offset":0.9395,"color":"#44d0"},
{"offset":0.943,"color":"#44d"},{"offset":0.9465,"color":"#44d0"},{"offset":0.951,"color":"#44d0"},
{"offset":0.9545,"color":"#44d"},{"offset":0.958,"color":"#44d0"},{"offset":0.9625,"color":"#44d0"},
{"offset":0.966,"color":"#44d"},{"offset":0.9695,"color":"#44d0"},{"offset":0.974,"color":"#44d0"},
{"offset":0.9775,"color":"#44d"},{"offset":0.981,"color":"#44d0"},{"offset":0.9855,"color":"#44d0"},
{"offset":0.989,"color":"#44d"},{"offset":0.9925,"color":"#44d0"},{"offset":0.997,"color":"#44d0"},
{"offset":1,"color":"#44d"}
     ]}},
    "encoding":{
     "x":{"field":"lo","type":"quantitative","scale":{"domain":[6,11],"nice":false,"zero":false},
      "axis":{"orient":"bottom","values":[6,6.1,6.2,6.3,6.4,6.5,6.6,6.7,6.8,6.9,7,7.1,7.2,7.3,7.4,7.5,7.6,7.7,7.8,7.9,8,8.1,8.2,8.3,8.4,8.5,8.6,8.7,8.8,8.9,9,9.1,9.2,9.3,9.4,9.5,9.6,9.7,9.8,9.9,10,10.1,10.2,10.3,10.4,10.5,10.6,10.7,10.8,10.9,11],"format":"~g",
       "labelExpr":"abs(datum.value*2-round(datum.value*2))<0.01 ? datum.label : ''","labelPadding":17,"title":null,
       "tickSize":{"condition":{"test":"abs(datum.value*2-round(datum.value*2))<0.01","value":-8},"value":-4}}},
     "y":{"field":"h","type":"quantitative","scale":{"domain":[0,2],"range":[547,421],"nice":false,"zero":false,"clamp":true},
      "axis":{"orient":"left","values":[0,0.1,0.2,0.3,0.4,0.5,0.6,0.7,0.8,0.9,1,1.1,1.2,1.3,1.4,1.5,1.6,1.7,1.8,1.9,2],"format":"~g",
       "labelExpr":"abs(datum.value*2-round(datum.value*2))<0.01 && datum.value>0.01 && datum.value<1.99 ? datum.label : ''","labelPadding":17,
       "title":"Data/Pred.","titleX":-51.5,"titleBaseline":"alphabetic",
       "tickSize":{"condition":{"test":"abs(datum.value*2-round(datum.value*2))<0.01","value":-12},"value":-6}}},
     "y2":{"field":"l"}
    }
   },
   {
    "data":{"values":[{}]},
    "mark":{"type":"rule","color":"#ff5a5a","strokeWidth":2.5},
    "encoding":{
     "y":{"datum":1,"type":"quantitative","scale":{"domain":[0,2],"range":[547,421],"nice":false,"zero":false,"clamp":true},
      "axis":{"orient":"right","values":[0,0.1,0.2,0.3,0.4,0.5,0.6,0.7,0.8,0.9,1,1.1,1.2,1.3,1.4,1.5,1.6,1.7,1.8,1.9,2],"labels":false,"title":null,
       "tickSize":{"condition":{"test":"abs(datum.value*2-round(datum.value*2))<0.01","value":-11},"value":-5.5}}}
    }
   },
   {
    "data":{"name":"rat"},
    "mark":{"type":"rule","color":"black","strokeWidth":1.8},
    "encoding":{
     "x":{"field":"m","type":"quantitative","scale":{"domain":[6,11],"nice":false,"zero":false},
      "axis":{"orient":"top","offset":-421,"values":[6,6.1,6.2,6.3,6.4,6.5,6.6,6.7,6.8,6.9,7,7.1,7.2,7.3,7.4,7.5,7.6,7.7,7.8,7.9,8,8.1,8.2,8.3,8.4,8.5,8.6,8.7,8.8,8.9,9,9.1,9.2,9.3,9.4,9.5,9.6,9.7,9.8,9.9,10,10.1,10.2,10.3,10.4,10.5,10.6,10.7,10.8,10.9,11],"labels":false,"title":null,
       "tickSize":{"condition":{"test":"abs(datum.value*2-round(datum.value*2))<0.01","value":-7},"value":-3.5}}},
     "y":{"field":"l","type":"quantitative","scale":{"domain":[0,2],"range":[547,421],"nice":false,"zero":false,"clamp":true},"axis":null},
     "y2":{"field":"h"}
    }
   },
   {
    "data":{"name":"rat"},
    "mark":{"type":"point","filled":true,"fill":"white","stroke":"black","strokeWidth":1.5,"size":45,"opacity":1},
    "encoding":{
     "x":{"field":"m","type":"quantitative","scale":{"domain":[6,11],"nice":false,"zero":false},"axis":null},
     "y":{"field":"r","type":"quantitative","scale":{"domain":[0,2],"range":[547,421],"nice":false,"zero":false,"clamp":true},"axis":null}
    }
   },
   {
    "data":{"values":[{}]},
    "mark":{"type":"text","text":"m","fontSize":22,"align":"left","baseline":"alphabetic","color":"black","dy":51},
    "encoding":{
     "x":{"datum":9.88,"type":"quantitative","scale":{"domain":[6,11],"nice":false,"zero":false},"axis":null},
     "y":{"datum":0,"type":"quantitative","scale":{"domain":[0,2],"range":[547,421],"nice":false,"zero":false,"clamp":true},"axis":null}
    }
   },
   {
    "data":{"values":[{}]},
    "mark":{"type":"text","text":"con","fontSize":14,"align":"left","baseline":"alphabetic","color":"black","dy":40.5},
    "encoding":{
     "x":{"datum":10.065,"type":"quantitative","scale":{"domain":[6,11],"nice":false,"zero":false},"axis":null},
     "y":{"datum":0,"type":"quantitative","scale":{"domain":[0,2],"range":[547,421],"nice":false,"zero":false,"clamp":true},"axis":null}
    }
   },
   {
    "data":{"values":[{}]},
    "mark":{"type":"text","text":"4\u03bc","fontSize":12,"align":"left","baseline":"alphabetic","color":"black","dy":55},
    "encoding":{
     "x":{"datum":10.07,"type":"quantitative","scale":{"domain":[6,11],"nice":false,"zero":false},"axis":null},
     "y":{"datum":0,"type":"quantitative","scale":{"domain":[0,2],"range":[547,421],"nice":false,"zero":false,"clamp":true},"axis":null}
    }
   },
   {
    "data":{"values":[{}]},
    "mark":{"type":"text","text":"[GeV]","fontSize":22,"align":"right","baseline":"alphabetic","color":"black","dy":51},
    "encoding":{
     "x":{"datum":11,"type":"quantitative","scale":{"domain":[6,11],"nice":false,"zero":false},"axis":null},
     "y":{"datum":0,"type":"quantitative","scale":{"domain":[0,2],"range":[547,421],"nice":false,"zero":false,"clamp":true},"axis":null}
    }
   }
  ]
 }
]
}
